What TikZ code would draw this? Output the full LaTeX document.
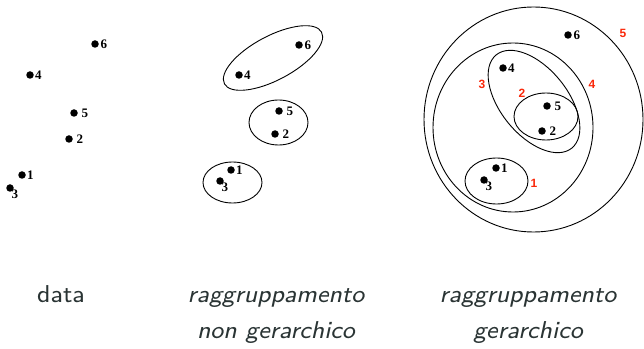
\documentclass[tikz,border=0pt]{standalone}
\usepackage{fontspec}
\newfontfamily\ptfont{Liberation Serif}
\newfontfamily\lvfont{Liberation Sans}
\definecolor{lvred}{RGB}{250,40,10}
\definecolor{captxt}{RGB}{42,52,52}
\tikzset{
  dot/.style={circle,fill=black,inner sep=0pt,minimum size=7.5pt},
  ptlabel/.style={font=\ptfont\bfseries\fontsize{13}{13}\selectfont,inner sep=1pt},
  lvlabel/.style={font=\lvfont\bfseries\fontsize{12}{12}\selectfont,text=lvred,inner sep=0pt},
  cluster/.style={draw,line width=0.9pt},
  caption/.style={font=\sffamily\fontsize{8}{9}\selectfont,text=captxt,anchor=base,
    inner sep=0pt,scale=3.05,transform shape},
}
\begin{document}
\begin{tikzpicture}[x=1pt,y=1pt]
\useasboundingbox (0,0) rectangle (644,348);

% --- raw data ---
\node[dot,label={[ptlabel,label distance=0.5pt]east:6}] (d6) at (95,304) {};
\node[dot,label={[ptlabel]east:4}] (d4) at (30,273) {};
\node[dot,label={[ptlabel,label distance=2.5pt]east:5}] (d5) at (74,235) {};
\node[dot,label={[ptlabel,label distance=2.5pt]east:2}] (d2) at (69,209) {};
\node[dot,label={[ptlabel]east:1}] (d1) at (22,173) {};
\node[dot,label={[ptlabel,label distance=-3.5pt]south east:3}] (d3) at (10,160) {};

% --- flat clustering ---
\node[dot,label={[ptlabel,label distance=0.5pt]east:6}] (n6) at (299,303) {};
\node[dot,label={[ptlabel]east:4}] (n4) at (239,273) {};
\node[dot,label={[ptlabel,label distance=2.5pt]east:5}] (n5) at (279,237) {};
\node[dot,label={[ptlabel,label distance=2.5pt]east:2}] (n2) at (275,214) {};
\node[dot,label={[ptlabel]east:1}] (n1) at (231,178) {};
\node[dot,label={[ptlabel,label distance=-3.5pt]south east:3}] (n3) at (220,167) {};
\draw[cluster,rotate around={28:(273,290)}] (273,290) ellipse [x radius=55,y radius=22];
\draw[cluster] (278.5,225.5) ellipse [x radius=29.5,y radius=22.5];
\draw[cluster] (232.5,165.5) ellipse [x radius=29.5,y radius=20.5];

% --- hierarchical clustering ---
\node[dot,label={[ptlabel,label distance=0.5pt]east:6}] (h6) at (568,313) {};
\node[dot,label={[ptlabel]east:4}] (h4) at (503,280) {};
\node[dot,label={[ptlabel,label distance=2.5pt]east:5}] (h5) at (547,242) {};
\node[dot,label={[ptlabel,label distance=2.5pt]east:2}] (h2) at (542,217) {};
\node[dot,label={[ptlabel]east:1}] (h1) at (496,180) {};
\node[dot,label={[ptlabel,label distance=-3.5pt]south east:3}] (h3) at (484,168) {};
\draw[cluster] (533.5,228.5) ellipse [x radius=109.5,y radius=112.5];
\draw[cluster] (513,220.5) ellipse [x radius=80,y radius=84.5];
\draw[cluster,rotate around={-51:(534,246.5)}] (534,246.5) ellipse [x radius=60,y radius=33.5];
\draw[cluster] (546,231.5) ellipse [x radius=32,y radius=23.5];
\draw[cluster] (496.5,167) ellipse [x radius=31.5,y radius=23];

\node[lvlabel] (l5) at (623,315) {5};
\node[lvlabel] (l4) at (592,264) {4};
\node[lvlabel] (l3) at (482,264) {3};
\node[lvlabel] (l2) at (522,255) {2};
\node[lvlabel] (l1) at (534,165) {1};

% --- captions ---
\node[caption] (c1) at (61,46) {data};
\node[caption] (c2a) at (276,46) {\itshape raggruppamento};
\node[caption] (c2b) at (276,10) {\itshape non gerarchico};
\node[caption] (c3a) at (528,46) {\itshape raggruppamento};
\node[caption] (c3b) at (528,10) {\itshape gerarchico};
\end{tikzpicture}
\end{document}
